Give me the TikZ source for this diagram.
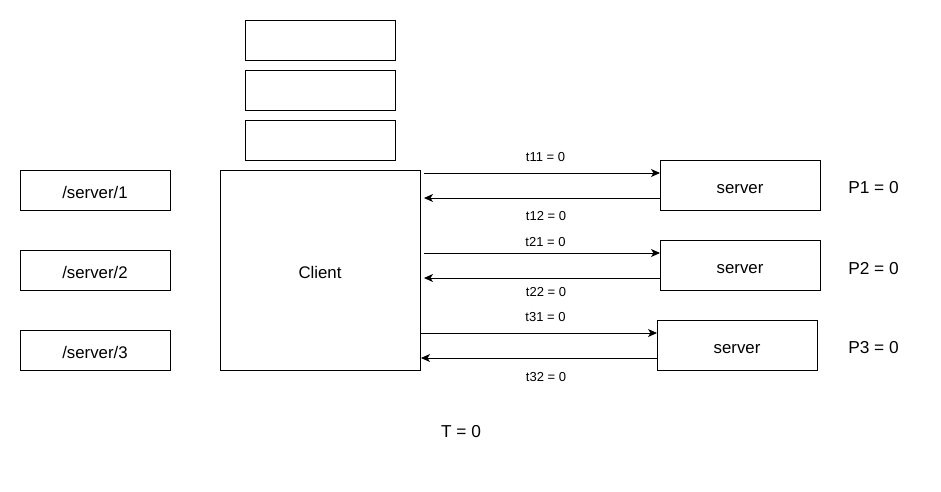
\documentclass[tikz,border=0pt]{standalone}
\usepackage{fontspec}
\setmainfont{Liberation Sans}
\usetikzlibrary{arrows.meta}
\begin{document}
\begin{tikzpicture}[x=1pt,y=-1pt,
  box/.style={draw,line width=1pt,minimum width=#1,inner sep=0pt,text height=17pt,text depth=0pt,font=\fontsize{16.8}{19}\selectfont},
  box/.default=150pt,
  lbl/.style={font=\fontsize{13}{15}\selectfont,inner sep=0pt,anchor=base},
  big/.style={font=\fontsize{17.3}{19}\selectfont,inner sep=0pt,anchor=base},
  conn/.style={line width=1pt,-{Stealth[length=9pt,width=8pt,inset=2.5pt]}}]
\useasboundingbox (0,0) rectangle (941,491);
\fill[white] (0,0) rectangle (941,491);
% top boxes
\node[box,minimum height=40pt] (q1) at (320,40) {};
\node[box,minimum height=40pt] (q2) at (320,90) {};
\node[box,minimum height=40pt] (q3) at (320,140) {};
% left boxes
\node[box,minimum height=40pt] (s1) at (95,190) {/server/1};
\node[box,minimum height=40pt] (s2) at (95,270) {/server/2};
\node[box,minimum height=40pt] (s3) at (95,350) {/server/3};
% client
\node[box=200pt,minimum height=200pt] (c) at (320,270) {Client};
% servers
\node[box=160pt,minimum height=50pt] (v1) at (740,185) {server};
\node[box=160pt,minimum height=50pt] (v2) at (740,265) {server};
\node[box=160pt,minimum height=50pt] (v3) at (737,345) {server};
% arrow anchor coordinates
\coordinate (a1s) at (424,173);
\coordinate (a1e) at (660,173);
\coordinate (b1s) at (660,198);
\coordinate (b1e) at (424,198);
\coordinate (a2s) at (424,253);
\coordinate (a2e) at (660,253);
\coordinate (b2s) at (660,278);
\coordinate (b2e) at (424,278);
\coordinate (a3s) at (420,333);
\coordinate (a3e) at (657,333);
\coordinate (b3s) at (657,358);
\coordinate (b3e) at (421,358);
\draw[conn] (a1s) -- (a1e);
\draw[conn] (b1s) -- (b1e);
\draw[conn] (a2s) -- (a2e);
\draw[conn] (b2s) -- (b2e);
\draw[conn] (a3s) -- (a3e);
\draw[conn] (b3s) -- (b3e);
% labels
\node[lbl] (t11) at (545.5,161) {t11 = 0};
\node[lbl] (t12) at (546,220.5) {t12 = 0};
\node[lbl] (t21) at (545.5,246) {t21 = 0};
\node[lbl] (t22) at (546,296) {t22 = 0};
\node[lbl] (t31) at (545.5,321.5) {t31 = 0};
\node[lbl] (t32) at (546,381.5) {t32 = 0};
\node[big] (p1) at (873.5,193.3) {P1 = 0};
\node[big] (p2) at (873.5,274) {P2 = 0};
\node[big] (p3) at (873.5,353.3) {P3 = 0};
\node[big] (T) at (461,437) {T = 0};
\end{tikzpicture}
\end{document}
